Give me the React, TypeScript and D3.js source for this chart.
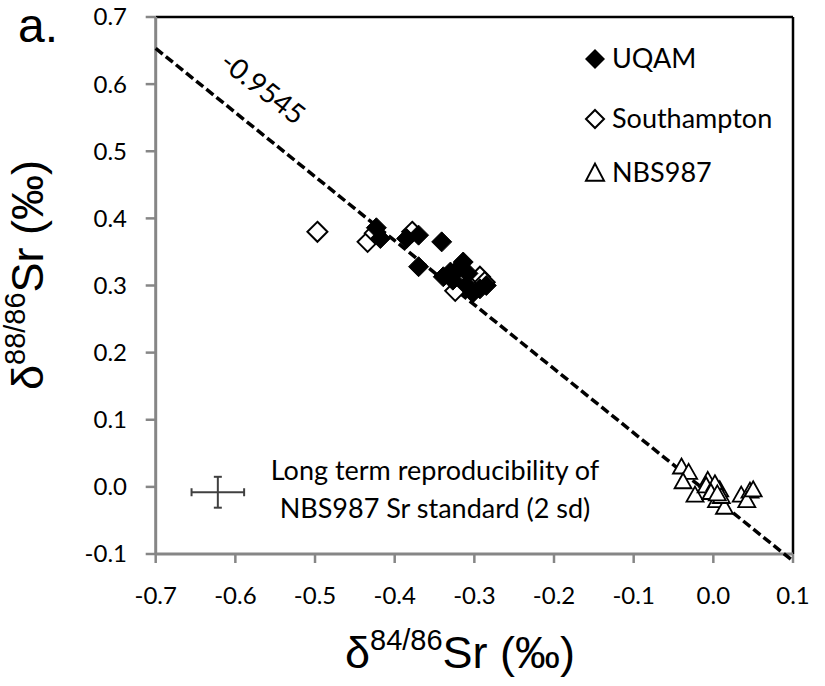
import React from 'react';
import * as d3 from 'd3';

// ---- data ----
const xTickValues = [-0.7, -0.6, -0.5, -0.4, -0.3, -0.2, -0.1, 0.0, 0.1];
const xTickLabels = ['-0.7', '-0.6', '-0.5', '-0.4', '-0.3', '-0.2', '-0.1', '0.0', '0.1'];
const yTickValues = [-0.1, 0.0, 0.1, 0.2, 0.3, 0.4, 0.5, 0.6, 0.7];
const yTickLabels = ['-0.1', '0.0', '0.1', '0.2', '0.3', '0.4', '0.5', '0.6', '0.7'];

const uqamX = [-0.423, -0.418, -0.385, -0.370, -0.341, -0.370, -0.339, -0.327, -0.314, -0.308, -0.320, -0.310, -0.302, -0.285, -0.293, -0.330];
const uqamY = [0.386, 0.370, 0.370, 0.375, 0.365, 0.328, 0.313, 0.308, 0.335, 0.318, 0.325, 0.300, 0.289, 0.300, 0.295, 0.320];

const southX = [-0.497, -0.434, -0.425, -0.378, -0.324, -0.293, -0.287];
const southY = [0.380, 0.365, 0.378, 0.380, 0.292, 0.313, 0.305];

const nbsX = [-0.040, -0.031, -0.038, -0.023, -0.007, -0.009, -0.001, 0.008, 0.004, 0.014, 0.035, 0.046, 0.042, 0.050, 0.002, -0.003, 0.010, 0.005];
const nbsY = [0.030, 0.022, 0.008, -0.012, 0.010, 0.002, -0.004, -0.004, -0.020, -0.030, -0.012, -0.006, -0.020, -0.004, 0.005, -0.008, -0.014, -0.010];

const fitSlope = -0.9545;
const fitIntercept = -0.015;
const fitRange = [-0.7, 0.1];

const errCenter = [-0.622, -0.008];
const errHalf = [0.033, 0.023];

const legendNames = ['UQAM', 'Southampton', 'NBS987'];

export default function App() {
  const W = 825, H = 686;
  const x = d3.scaleLinear().domain([-0.7, 0.1]).range([155.7, 793]);
  const y = d3.scaleLinear().domain([-0.1, 0.7]).range([554, 17]);

  const diamond = (r: number) => `M0,${-r}L${r},0L0,${r}L${-r},0Z`;
  const tri = (w: number, h: number) => `M0,${-h * 0.55}L${w / 2},${h * 0.45}L${-w / 2},${h * 0.45}Z`;

  const line = d3.line<number>().x(d => x(d)).y(d => y(fitSlope * d + fitIntercept));

  const tickFont = 'Lato, "Open Sans", sans-serif';
  const titleFont = '"Liberation Sans", Arial, sans-serif';
  const axisGrey = '#868686';

  const legendY = [59, 119, 173];

  const [ex, ey] = errCenter;
  const [hx, hy] = errHalf;

  return (
    <svg width={W} height={H} style={{ position: 'absolute', left: 0, top: 0, background: '#fff' }}>
      <rect x={0} y={0} width={W} height={H} fill="#fff" />
      {/* frame */}
      <line x1={x(-0.7)} x2={x(0.1)} y1={y(0.7)} y2={y(0.7)} stroke="#000" strokeWidth={2.5} />
      <line x1={x(0.1)} x2={x(0.1)} y1={y(0.7)} y2={y(-0.1)} stroke="#000" strokeWidth={2.5} />
      {/* axes */}
      <line x1={x(-0.7)} x2={x(0.1)} y1={y(-0.1)} y2={y(-0.1)} stroke={axisGrey} strokeWidth={3} />
      <line x1={x(-0.7)} x2={x(-0.7)} y1={y(0.7)} y2={y(-0.1)} stroke={axisGrey} strokeWidth={3} />
      {yTickValues.map((v, i) => (
        <g key={'yt' + i}>
          <line x1={x(-0.7) - 10} x2={x(-0.7)} y1={y(v)} y2={y(v)} stroke={axisGrey} strokeWidth={2.5} />
          <text x={127} y={y(v)} dy="0.35em" textAnchor="end" fontFamily={tickFont} fontSize={24} fill="#000">{yTickLabels[i]}</text>
        </g>
      ))}
      {xTickValues.map((v, i) => (
        <g key={'xt' + i}>
          <line x1={x(v)} x2={x(v)} y1={y(-0.1)} y2={y(-0.1) + 9} stroke={axisGrey} strokeWidth={2.5} />
          <text x={x(v)} y={604} textAnchor="middle" fontFamily={tickFont} fontSize={24} fill="#000">{xTickLabels[i]}</text>
        </g>
      ))}

      {/* fit line */}
      <path d={line(fitRange) || ''} fill="none" stroke="#000" strokeWidth={3.5} strokeDasharray="9,4" />
      <text transform={`translate(263,88) rotate(38)`} textAnchor="middle" dy="0.35em" fontFamily={tickFont} fontSize={28}>-0.9545</text>

      {/* Southampton */}
      {southX.map((v, i) => (
        <path key={'s' + i} d={diamond(10)} transform={`translate(${x(v)},${y(southY[i])})`} fill="#fff" stroke="#000" strokeWidth={2} />
      ))}
      {/* UQAM */}
      {uqamX.map((v, i) => (
        <path key={'u' + i} d={diamond(10)} transform={`translate(${x(v)},${y(uqamY[i])})`} fill="#000" stroke="#000" strokeWidth={1} />
      ))}
      {/* NBS987 */}
      {nbsX.map((v, i) => (
        <path key={'n' + i} d={tri(17, 15)} transform={`translate(${x(v)},${y(nbsY[i])})`} fill="#fff" stroke="#000" strokeWidth={1.8} />
      ))}

      {/* error cross */}
      <g stroke="#404040" strokeWidth={2} fill="none">
        <line x1={x(ex - hx)} x2={x(ex + hx)} y1={y(ey)} y2={y(ey)} />
        <line x1={x(ex)} x2={x(ex)} y1={y(ey - hy)} y2={y(ey + hy)} />
        <line x1={x(ex - hx)} x2={x(ex - hx)} y1={y(ey) - 4} y2={y(ey) + 4} />
        <line x1={x(ex + hx)} x2={x(ex + hx)} y1={y(ey) - 4} y2={y(ey) + 4} />
        <line x1={x(ex) - 4} x2={x(ex) + 4} y1={y(ey - hy)} y2={y(ey - hy)} />
        <line x1={x(ex) - 4} x2={x(ex) + 4} y1={y(ey + hy)} y2={y(ey + hy)} />
      </g>
      <text x={435} y={480} textAnchor="middle" fontFamily={tickFont} fontSize={27}>Long term reproducibility of</text>
      <text x={435} y={518} textAnchor="middle" fontFamily={tickFont} fontSize={27}>NBS987 Sr standard (2 sd)</text>

      {/* legend */}
      <path d={diamond(10)} transform={`translate(595,${legendY[0]})`} fill="#000" />
      <path d={diamond(9)} transform={`translate(595,${legendY[1]})`} fill="#fff" stroke="#000" strokeWidth={2} />
      <path d={tri(18, 17)} transform={`translate(595,${legendY[2]})`} fill="#fff" stroke="#000" strokeWidth={2} />
      {legendNames.map((n, i) => (
        <text key={'l' + i} x={612} y={legendY[i] + 9} fontFamily={tickFont} fontSize={27}>{n}</text>
      ))}

      {/* axis titles */}
      <text x={460} y={668} textAnchor="middle" fontFamily={titleFont} fontSize={45}>
        δ<tspan fontSize={29} dy={-18}>84/86</tspan><tspan dy={18}>Sr (‰)</tspan>
      </text>
      <text transform="translate(43,275) rotate(-90)" textAnchor="middle" fontFamily={titleFont} fontSize={45}>
        δ<tspan fontSize={29} dy={-18}>88/86</tspan><tspan dy={18}>Sr (‰)</tspan>
      </text>

      <text x={18} y={42} fontFamily={titleFont} fontSize={48}>a.</text>
    </svg>
  );
}
